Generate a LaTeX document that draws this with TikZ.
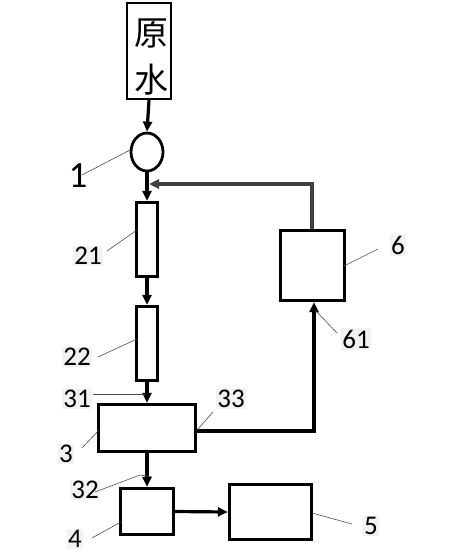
\documentclass[tikz,border=0pt]{standalone}
\usepackage{fontspec}
\setmainfont{Carlito}
\newfontfamily\cjk{Noto Sans CJK SC}
\usetikzlibrary{arrows.meta,shapes.geometric}
\begin{document}
\begin{tikzpicture}[x=1pt,y=-1pt,
  blk/.style={draw=black,line width=3.4pt,fill=white,inner sep=0pt},
  flow/.style={line width=3.2pt,-{Triangle[length=10pt,width=9pt]}},
  lead/.style={draw=black!70,line width=0.6pt},
  lbl/.style={font=\fontsize{27}{27}\selectfont,fill=black!5,inner sep=1.5pt}]
\useasboundingbox (0,0) rectangle (449,557);
% boxes
\node[blk,minimum width=44pt,minimum height=96pt,line width=2.4pt] (raw) at (149,51) {};
\node[font=\cjk\fontsize{34}{34}\selectfont,text=black] (t1) at (151,33) {原};
\node[font=\cjk\fontsize{34}{34}\selectfont,text=black] (t2) at (151,80) {水};
\node[draw,ellipse,line width=2.8pt,minimum width=32pt,minimum height=38pt,inner sep=0pt] (c1) at (147,152) {};
\node[blk,minimum width=21pt,minimum height=74pt] (b21) at (147,239.5) {};
\node[blk,minimum width=21pt,minimum height=74pt] (b22) at (147,343.5) {};
\node[blk,minimum width=97pt,minimum height=47pt] (b3) at (147,428) {};
\node[blk,minimum width=53pt,minimum height=46pt] (b4) at (147,511.5) {};
\node[blk,minimum width=82pt,minimum height=55pt] (b5) at (270.5,512) {};
\node[blk,minimum width=64pt,minimum height=70pt] (b6) at (312.5,265.5) {};
% coordinates
\coordinate (fbTop) at (312,184);
\coordinate (fbEnd) at (149,184);
\coordinate (rc) at (314,431);
% flows
\draw[flow] (raw.south) -- (c1.north);
\draw[flow] (c1.south) -- (b21.north);
\draw[flow] (b21.south) -- (b22.north);
\draw[flow] (b22.south) -- (b3.north);
\draw[flow] (b3.south) -- (b4.north);
\draw[flow] (b4.east) -- (b5.west);
\draw[flow] (b3.east |- rc) -- (rc) -- (b6.south -| rc);
\draw[flow,draw=black!75] (b6.north -| fbTop) -- (fbTop) -- (fbEnd);
% labels
\node[font=\fontsize{37}{37}\selectfont,inner sep=0pt] (l1) at (78,176) {1};
\node[lbl] (l21) at (88,256) {21};
\node[lbl] (l22) at (77,357) {22};
\node[lbl] (l31) at (77,399) {31};
\node[lbl] (l33) at (231,399) {33};
\node[lbl] (l3) at (66,454) {3};
\node[lbl] (l32) at (85,490) {32};
\node[lbl] (l4) at (75,539) {4};
\node[lbl] (l5) at (371,526) {5};
\node[lbl] (l6) at (398,245) {6};
\node[lbl] (l61) at (356,339) {61};
% leaders
\coordinate (a1) at (82,175); \coordinate (e1) at (130,150);
\draw[lead] (a1) -- (e1);
\coordinate (a21) at (107,251); \coordinate (e21) at (137,230);
\draw[lead] (a21) -- (e21);
\coordinate (a22) at (98,357); \coordinate (e22) at (137,339);
\draw[lead] (a22) -- (e22);
\coordinate (a31) at (93,394); \coordinate (e31) at (145,394);
\draw[lead] (a31) -- (e31);
\coordinate (a33) at (213,412); \coordinate (e33) at (197,430);
\draw[lead] (a33) -- (e33);
\coordinate (a3) at (82,448); \coordinate (e3) at (99,430);
\draw[lead] (a3) -- (e3);
\coordinate (a32) at (95,492); \coordinate (m32) at (140,475); \coordinate (e32) at (152,477);
\draw[lead] (a32) -- (m32) -- (e32);
\coordinate (a4) at (92,538); \coordinate (e4) at (121,522);
\draw[lead] (a4) -- (e4);
\coordinate (a5) at (352,524); \coordinate (e5) at (312,513);
\draw[lead] (a5) -- (e5);
\coordinate (a6) at (378,249); \coordinate (e6) at (344,266);
\draw[lead] (a6) -- (e6);
\coordinate (a61) at (337,333); \coordinate (e61) at (315,310);
\draw[lead] (a61) -- (e61);
\end{tikzpicture}
\end{document}
